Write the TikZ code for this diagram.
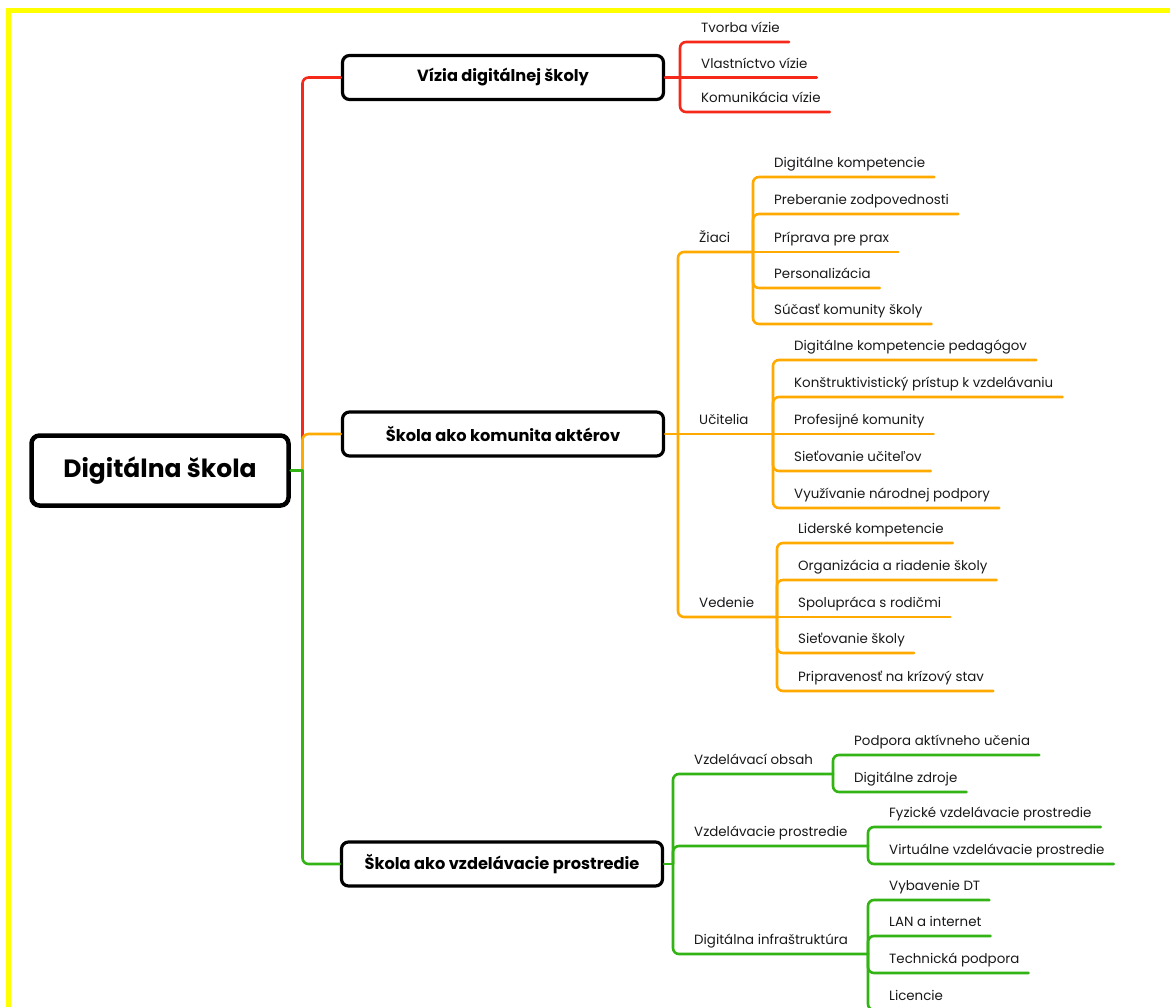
\documentclass[tikz,border=0pt]{standalone}
\usepackage{fontspec}
\setmainfont{Poppins}
\usetikzlibrary{calc}
\definecolor{cred}{RGB}{245,40,25}
\definecolor{corange}{RGB}{255,170,0}
\definecolor{cgreen}{RGB}{50,180,20}
\definecolor{ctext}{RGB}{25,25,25}
\definecolor{cyel}{RGB}{255,255,0}
\begin{document}
\begin{tikzpicture}[x=1pt,y=-1pt,
  conn/.style={line width=2.6pt, rounded corners=6pt, line cap=round},
  mainbox/.style={draw=black, line width=3.2pt, rounded corners=7pt, fill=white,
    minimum width=321pt, minimum height=44pt, inner sep=0pt,
    font=\bfseries\fontsize{16.2}{19}\selectfont},
  rootbox/.style={draw=black, line width=4.5pt, rounded corners=8pt, fill=white,
    minimum width=257pt, minimum height=70pt, inner sep=0pt,
    font=\bfseries\fontsize{25}{30}\selectfont},
  leaf/.style={anchor=south west, inner xsep=0pt, inner ysep=0pt,
    font=\fontsize{13.4}{15}\selectfont, text=ctext,
    execute at begin node={\hspace*{21pt}\rule[-9pt]{0pt}{9pt}},
    execute at end node={\hspace*{9pt}}}
]
\useasboundingbox (0,0) rectangle (1170,1007);
\clip (0,0) rectangle (1170,1007);
\fill[white] (0,0) rectangle (1170,1007);
\fill[cyel] (6,8) rectangle (1170,12.5);
\fill[cyel] (6,8) rectangle (11,1007);

% root and main boxes
\node[rootbox] (root) at (160,470.5) {Digitálna škola};
\coordinate (rj) at (302.5,470.5);
\node[mainbox] (b1) at (503,77.5) {Vízia digitálnej školy};
\node[mainbox] (b2) at (503,434) {Škola ako komunita aktérov};
\node[mainbox] (b3) at (502,864) {Škola ako vzdelávacie prostredie};

% hubs
\coordinate (h1) at (680,77.5);
\coordinate (h2) at (678,434);
\coordinate (h3) at (673,864);
\coordinate (hz) at (753,252);
\coordinate (hu) at (773,434);
\coordinate (hv) at (777,617);
\coordinate (ho) at (833,774);
\coordinate (hp) at (868,846);
\coordinate (hi) at (868,954);

% red leaves
\node[leaf] (r1) at (680,42) {Tvorba vízie};
\node[leaf] (r2) at (680,77.5) {Vlastníctvo vízie};
\node[leaf] (r3) at (680,112) {Komunikácia vízie};

% orange labels
\node[leaf] (zi) at (678,252) {Žiaci};
\node[leaf] (uc) at (678,434) {Učitelia};
\node[leaf] (ve) at (678,617) {Vedenie};

\node[leaf] (z1) at (753,177) {Digitálne kompetencie};
\node[leaf] (z2) at (753,214) {Preberanie zodpovednosti};
\node[leaf] (z3) at (753,252) {Príprava pre prax};
\node[leaf] (z4) at (753,288) {Personalizácia};
\node[leaf] (z5) at (753,324) {Súčasť komunity školy};

\node[leaf] (u1) at (773,360) {Digitálne kompetencie pedagógov};
\node[leaf] (u2) at (773,397) {Konštruktivistický prístup k vzdelávaniu};
\node[leaf] (u3) at (773,434) {Profesijné komunity};
\node[leaf] (u4) at (773,471) {Sieťovanie učiteľov};
\node[leaf] (u5) at (773,508) {Využívanie národnej podpory};

\node[leaf] (v1) at (777,543) {Liderské kompetencie};
\node[leaf] (v2) at (777,580) {Organizácia a riadenie školy};
\node[leaf] (v3) at (777,617) {Spolupráca s rodičmi};
\node[leaf] (v4) at (777,653) {Sieťovanie školy};
\node[leaf] (v5) at (777,691) {Pripravenosť na krízový stav};

% green labels
\node[leaf] (vo) at (673,774) {Vzdelávací obsah};
\node[leaf] (vp) at (673,846) {Vzdelávacie prostredie};
\node[leaf] (di) at (673,954) {Digitálna infraštruktúra};

\node[leaf] (o1) at (833,755) {Podpora aktívneho učenia};
\node[leaf] (o2) at (833,792) {Digitálne zdroje};
\node[leaf] (p1) at (868,827) {Fyzické vzdelávacie prostredie};
\node[leaf] (p2) at (868,864) {Virtuálne vzdelávacie prostredie};
\node[leaf] (i1) at (868,900) {Vybavenie DT};
\node[leaf] (i2) at (868,936) {LAN a internet};
\node[leaf] (i3) at (868,973) {Technická podpora};
\node[leaf] (i4) at (868,1010) {Licencie};

% root connectors
\draw[conn,cred] (rj) |- (b1.west);
\draw[conn,corange] (rj) |- (b2.west);
\draw[conn,cgreen] (rj) |- (b3.west);
\draw[conn,cgreen] (root.east) -- (rj);

% red branch
\draw[conn,cred] (b1.east) -- (h1);
\draw[conn,cred] (h1) |- (r1.south east);
\draw[conn,cred] (h1) -- (r2.south east);
\draw[conn,cred] (h1) |- (r3.south east);

% orange branch
\draw[conn,corange] (b2.east) -- (h2);
\draw[conn,corange] (h2) |- (hz);
\draw[conn,corange] (h2) -- (hu);
\draw[conn,corange] (h2) |- (hv);
\draw[conn,corange] (hz) |- (z1.south east);
\draw[conn,corange] (hz) |- (z2.south east);
\draw[conn,corange] (hz) -- (z3.south east);
\draw[conn,corange] (hz) |- (z4.south east);
\draw[conn,corange] (hz) |- (z5.south east);
\draw[conn,corange] (hu) |- (u1.south east);
\draw[conn,corange] (hu) |- (u2.south east);
\draw[conn,corange] (hu) -- (u3.south east);
\draw[conn,corange] (hu) |- (u4.south east);
\draw[conn,corange] (hu) |- (u5.south east);
\draw[conn,corange] (hv) |- (v1.south east);
\draw[conn,corange] (hv) |- (v2.south east);
\draw[conn,corange] (hv) -- (v3.south east);
\draw[conn,corange] (hv) |- (v4.south east);
\draw[conn,corange] (hv) |- (v5.south east);

% green branch
\draw[conn,cgreen] (b3.east) -- (h3);
\draw[conn,cgreen] (h3) |- (ho);
\draw[conn,cgreen] (h3) |- (hp);
\draw[conn,cgreen] (h3) |- (hi);
\draw[conn,cgreen] (ho) |- (o1.south east);
\draw[conn,cgreen] (ho) |- (o2.south east);
\draw[conn,cgreen] (hp) |- (p1.south east);
\draw[conn,cgreen] (hp) |- (p2.south east);
\draw[conn,cgreen] (hi) |- (i1.south east);
\draw[conn,cgreen] (hi) |- (i2.south east);
\draw[conn,cgreen] (hi) |- (i3.south east);
\draw[conn,cgreen] (hi) |- (i4.south east);
\end{tikzpicture}
\end{document}
